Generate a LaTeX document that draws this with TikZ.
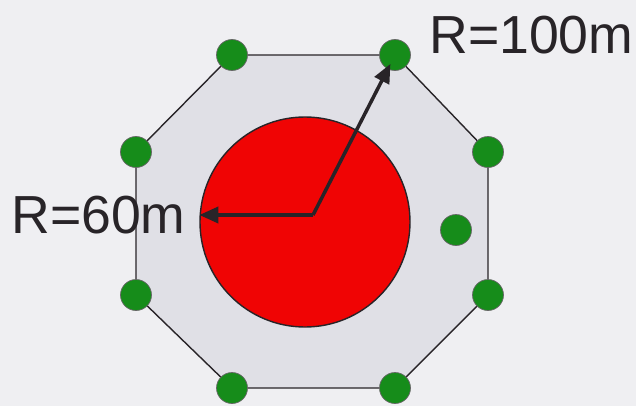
\documentclass[tikz,border=0pt]{standalone}
\usepackage{fontspec}
\setmainfont{Liberation Sans}
\usetikzlibrary{arrows.meta,backgrounds}
\definecolor{paper}{RGB}{239,239,242}
\definecolor{zone}{RGB}{224,224,230}
\definecolor{hot}{RGB}{240,4,4}
\definecolor{sensor}{RGB}{22,140,26}
\definecolor{ink}{RGB}{40,36,40}
\tikzset{
  >={Triangle[length=3.8mm,width=3.2mm]},
  dot/.style={circle,draw=ink!70,fill=sensor,thin,minimum size=6.2mm,inner sep=0pt},
  core/.style={circle,draw=ink,fill=hot,thick,minimum size=42mm,inner sep=0pt},
  ring/.style={draw=ink,thick,fill=zone},
  radius/.style={->,draw=ink,line width=2pt},
  tag/.style={font=\fontsize{30.5}{36}\selectfont,text=ink,inner sep=0pt},
}

\begin{document}
\begin{tikzpicture}[x=0.2mm,y=-0.2mm]
  \useasboundingbox (0,0) rectangle (636,406);
  % sensors round the zone
  \foreach \n/\x/\y in {1/232/55,2/395/55,3/488/152,4/488/295,5/395/388,6/232/388,7/136/295,8/136/152}
    \node[dot] (s\n) at (\x,\y) {};
  \node[dot] (s9) at (456,230) {};
  \node[core] (hot) at (305,222) {};
  \coordinate (o) at (313,215);
  \begin{scope}[on background layer]
    \fill[paper] (0,0) rectangle (636,406);
    \draw[ring] (s1.center) -- (s2.center) -- (s3.center) -- (s4.center) -- (s5.center)
      -- (s6.center) -- (s7.center) -- (s8.center) -- cycle;
  \end{scope}
  \draw[radius] (o) -- (o -| hot.west);
  \draw[radius,shorten >=2mm] (o) -- (s2.center);
  \node[tag,anchor=west] (big) at (429,35) {R=100m};
  \node[tag,anchor=west] (small) at (11,215) {R=60m};
\end{tikzpicture}
\end{document}
